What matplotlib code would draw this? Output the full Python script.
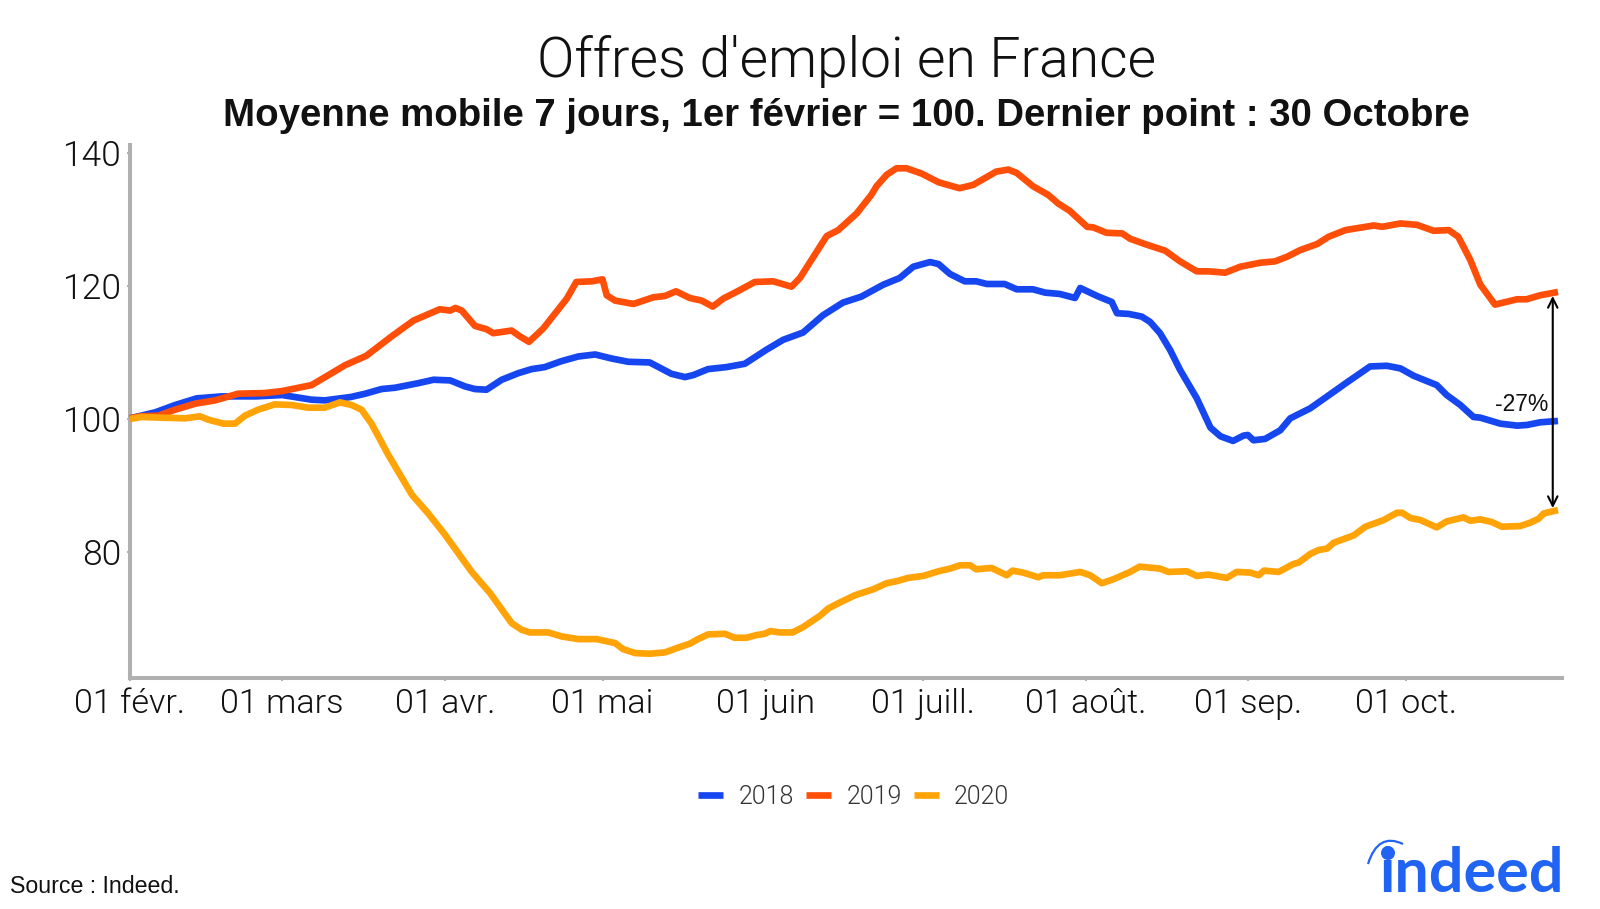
"""Offres d'emploi en France - Indeed chart rebuilt with matplotlib."""
import matplotlib
matplotlib.use("Agg")
import matplotlib.pyplot as plt
from matplotlib.patches import Circle, PathPatch
from matplotlib.path import Path

WIDTH, HEIGHT = 1600, 909
LIGHT = "Roboto"
REGULAR = "Liberation Sans"
GREY = "#B0B0B0"

# days are counted from 1 February
days_2018 = [0, 4.8, 8.6, 12.7, 17.5, 24, 29, 34.6, 37.1, 42, 44.8, 47.9, 50.5, 55, 57.8, 61, 63.8, 65.7, 67.9,
             70.8, 74, 76.5, 79, 82.2, 85.4, 88.6, 91.7, 94.9, 99, 103.1, 105.7, 107.3, 110.1, 113.6, 117.1,
             121.2, 124.4, 128.2, 132, 135.8, 139.3, 143.5, 146.6, 149.2, 152.4, 154, 156.2, 159, 161.2, 163.2,
             166.6, 168.9, 172, 174.3, 177.1, 180, 181, 184.2, 187, 188, 190.2, 192.7, 194.3, 196.2, 198.1,
             200, 203.2, 205.8, 207.7, 210.1, 212.1, 212.9, 214, 216.2, 219.1, 221, 224.8, 229.3, 231.8, 236.2,
             239.4, 242, 244.5, 248.9, 250.8, 253.4, 255.9, 257.2, 261, 264.2, 266.1, 268.6, 272]
values_2018 = [100.1, 101, 102.1, 103.1, 103.4, 103.4, 103.6, 102.9, 102.8, 103.3, 103.8, 104.5, 104.7, 105.4, 105.9,
               105.8, 104.9, 104.5, 104.4, 105.9, 106.9, 107.5, 107.8, 108.7, 109.4, 109.7, 109.1, 108.6, 108.5,
               106.8, 106.3, 106.6, 107.5, 107.8, 108.3, 110.4, 111.9, 113, 115.6, 117.5, 118.4, 120.2, 121.2,
               122.9, 123.6, 123.3, 121.8, 120.7, 120.7, 120.3, 120.3, 119.5, 119.5, 119, 118.8, 118.2, 119.7,
               118.5, 117.6, 115.9, 115.8, 115.4, 114.6, 112.9, 110.4, 107.4, 103.1, 98.7, 97.4, 96.7, 97.5, 97.6,
               96.8, 97, 98.3, 100.1, 101.6, 104.1, 105.5, 107.9, 108, 107.6, 106.5, 105.1, 103.6, 102.1, 100.3,
               100.2, 99.3, 99, 99.1, 99.5, 99.7]

days_2019 = [0, 2, 5.4, 8.6, 12.4, 16.2, 20.6, 25.7, 29, 34.6, 37.8, 41, 45, 49.8, 54, 59, 61, 62, 63.2, 65.7, 67.9,
             69.2, 72.7, 74.3, 76, 78.7, 83.2, 85, 88, 90, 90.8, 92.4, 95.9, 99.7, 101.9, 104, 106.6, 108.9, 111,
             113, 116.2, 119, 122.5, 126, 127.6, 132.7, 134.9, 138.4, 141.2, 142.2, 144.1, 146, 147.9, 150.8, 154,
             158, 160.6, 165, 167.3, 168.9, 172, 174.9, 176.8, 179, 182.3, 183.5, 186, 189, 190.5, 193.7, 197.2,
             200, 203.2, 205.4, 208.6, 211.5, 215.3, 218.1, 220.4, 222.9, 226.1, 228.3, 231.5, 236.9, 238.5, 242,
             245.1, 248.3, 251.2, 253, 255.3, 257.2, 260, 264.2, 266, 268.6, 272]
values_2019 = [100.1, 100.4, 100.5, 101.4, 102.3, 102.8, 103.8, 103.9, 104.2, 105.1, 106.6, 108.1, 109.5, 112.4, 114.8,
               116.5, 116.3, 116.7, 116.3, 114, 113.5, 112.9, 113.3, 112.4, 111.6, 113.6, 118.1, 120.6, 120.7, 121,
               118.6, 117.8, 117.3, 118.3, 118.5, 119.2, 118.2, 117.8, 116.9, 118.1, 119.4, 120.6, 120.7, 119.9,
               121.2, 127.5, 128.4, 130.9, 133.7, 135, 136.7, 137.7, 137.7, 136.9, 135.6, 134.7, 135.2, 137.2, 137.5,
               137, 135, 133.7, 132.4, 131.3, 128.9, 128.8, 128, 127.9, 127.1, 126.2, 125.3, 123.7, 122.2, 122.2,
               122, 122.9, 123.5, 123.7, 124.4, 125.4, 126.3, 127.4, 128.4, 129.1, 128.9, 129.4, 129.2, 128.3, 128.4,
               127.4, 123.9, 120.2, 117.2, 118, 118, 118.6, 119.1]

days_2020 = [0, 2.2, 6, 10.5, 13.3, 14.9, 17.8, 20, 21.9, 24.4, 27.6, 30.8, 34, 37.1, 40, 42.2, 44.1, 46, 49.2, 53.7,
             56.8, 60, 65.1, 68.6, 72.7, 74.6, 76.2, 79.7, 82.2, 85.4, 88.9, 92.4, 93.9, 96.2, 99, 101.9, 104.7,
             106.6, 108.2, 110.1, 113.3, 115.2, 117.4, 119.3, 120.9, 122, 123.8, 126.2, 128.2, 131.4, 133, 135.2,
             138.1, 141.6, 144.1, 146, 148.2, 151.1, 154, 156.2, 158.1, 160, 161.2, 164.1, 167, 168.1, 170.1, 173,
             174, 177.1, 181, 182.9, 185.1, 187.3, 190.5, 192.3, 196.2, 197.8, 201.3, 203.2, 205.4, 208.9, 210.8,
             213.4, 215, 216, 218.8, 221.6, 222.6, 224.8, 226.4, 228, 229.3, 233.1, 235.3, 238.8, 241.3, 242.3,
             243.9, 245.8, 248.9, 250.8, 254, 255.3, 257.2, 259.4, 261.3, 264.8, 266.7, 268.3, 269.3, 272]
values_2020 = [100, 100.3, 100.2, 100.1, 100.4, 99.9, 99.3, 99.3, 100.5, 101.4, 102.2, 102.1, 101.7, 101.7, 102.5,
               102.1, 101.4, 99.3, 94.6, 88.6, 85.8, 82.6, 77, 73.8, 69.3, 68.3, 67.9, 67.9, 67.3, 66.9, 66.9, 66.3,
               65.4, 64.8, 64.7, 64.9, 65.7, 66.2, 66.9, 67.6, 67.7, 67.1, 67.1, 67.5, 67.7, 68.1, 67.9, 67.9, 68.7,
               70.4, 71.5, 72.4, 73.5, 74.4, 75.3, 75.6, 76.1, 76.4, 77.1, 77.5, 78, 78, 77.4, 77.6, 76.5, 77.2,
               76.9, 76.2, 76.5, 76.5, 77, 76.5, 75.3, 75.9, 77, 77.8, 77.5, 77, 77.1, 76.4, 76.6, 76.1, 77, 76.9,
               76.5, 77.2, 77, 78.2, 78.4, 79.7, 80.3, 80.5, 81.4, 82.5, 83.8, 84.8, 85.9, 85.9, 85.1, 84.8, 83.7,
               84.6, 85.2, 84.7, 84.9, 84.5, 83.8, 83.9, 84.4, 85, 85.8, 86.3]

x_ticks = [0, 29, 60, 90, 121, 151, 182, 213, 243]
x_labels = ["01 févr.", "01 mars", "01 avr.", "01 mai", "01 juin", "01 juill.", "01 août.", "01 sep.", "01 oct."]
y_ticks = [80, 100, 120, 140]

series = [
    ("2018", days_2018, values_2018, "#1546F0"),
    ("2019", days_2019, values_2019, "#FF4E08"),
    ("2020", days_2020, values_2020, "#FFA307"),
]

fig = plt.figure(figsize=(WIDTH / 100, HEIGHT / 100), dpi=100)
left, right, top, bottom = 130, 1562, 145, 678
ax = fig.add_axes([left / WIDTH, 1 - bottom / HEIGHT, (right - left) / WIDTH, (bottom - top) / HEIGHT])

for name, days, values, color in series:
    ax.plot(days, values, color=color, lw=4.8, label=name, solid_capstyle="butt", solid_joinstyle="round",
            clip_on=False, zorder=3)

ax.set_xlim(0, (right - left) / 5.25)
ax.set_ylim(61.05, 141.2)
ax.set_xticks(x_ticks, x_labels, fontfamily=LIGHT, fontweight=300, fontsize=24.6)
ax.set_yticks(y_ticks, [str(v) for v in y_ticks], fontfamily=LIGHT, fontweight=300, fontsize=25.5)
ax.tick_params(axis="both", length=2.5, width=1.5, color=GREY, labelcolor="#111111")
ax.tick_params(axis="x", pad=5)
ax.tick_params(axis="y", pad=3.5)
for side in ("top", "right"):
    ax.spines[side].set_visible(False)
for side in ("left", "bottom"):
    ax.spines[side].set_color(GREY)
    ax.spines[side].set_linewidth(2.9)

# gap between 2019 and 2020 at the last point
ax.annotate("", xy=(271, 86.6), xytext=(271, 118.5),
            arrowprops=dict(arrowstyle="<->", color="black", lw=1.5, mutation_scale=17, shrinkA=0, shrinkB=0),
            zorder=4)
ax.text(270.2, 100.4, "-27%", ha="right", va="bottom", fontsize=16.5, fontfamily=REGULAR, color="#111111")

fig.text(846.5 / WIDTH, 1 - 77 / HEIGHT, "Offres d'emploi en France", ha="center", va="baseline",
         fontsize=39.8, fontfamily=LIGHT, fontweight=300, color="#111111")
fig.text(846.5 / WIDTH, 1 - 126 / HEIGHT, "Moyenne mobile 7 jours, 1er février = 100. Dernier point : 30 Octobre",
         ha="center", va="baseline", fontsize=27.6, fontfamily=REGULAR, fontweight="bold", color="#111111")

handles, labels = ax.get_legend_handles_labels()
leg = fig.legend(handles, labels, loc="center", bbox_to_anchor=(854 / WIDTH, 1 - 797 / HEIGHT), ncol=3, frameon=False,
                 handlelength=1.0, handletextpad=0.6, columnspacing=0.5,
                 prop={"family": LIGHT, "weight": 300, "size": 18})
for text in leg.get_texts():
    text.set_color("#333333")

fig.text(10 / WIDTH, 1 - 893 / HEIGHT, "Source : Indeed.", ha="left", va="baseline", fontsize=16.7,
         fontfamily=REGULAR, color="#111111")

# logo: wordmark, oversized dot of the i and the arc above it
LOGO = "#2164F3"
fig.text(1379 / WIDTH, 1 - 892 / HEIGHT, "indeed", ha="left", va="baseline", fontsize=44, fontfamily="Lato",
         fontweight="bold", color=LOGO)
fig.add_artist(Circle((1388, HEIGHT - 853), 7, transform=None, color=LOGO, lw=0))
arc = Path([(1368, HEIGHT - 864), (1378, HEIGHT - 832), (1403, HEIGHT - 844)],
           [Path.MOVETO, Path.CURVE3, Path.CURVE3])
fig.add_artist(PathPatch(arc, transform=None, fill=False, edgecolor=LOGO, lw=1.6))

fig.savefig("out.png", dpi=100)
